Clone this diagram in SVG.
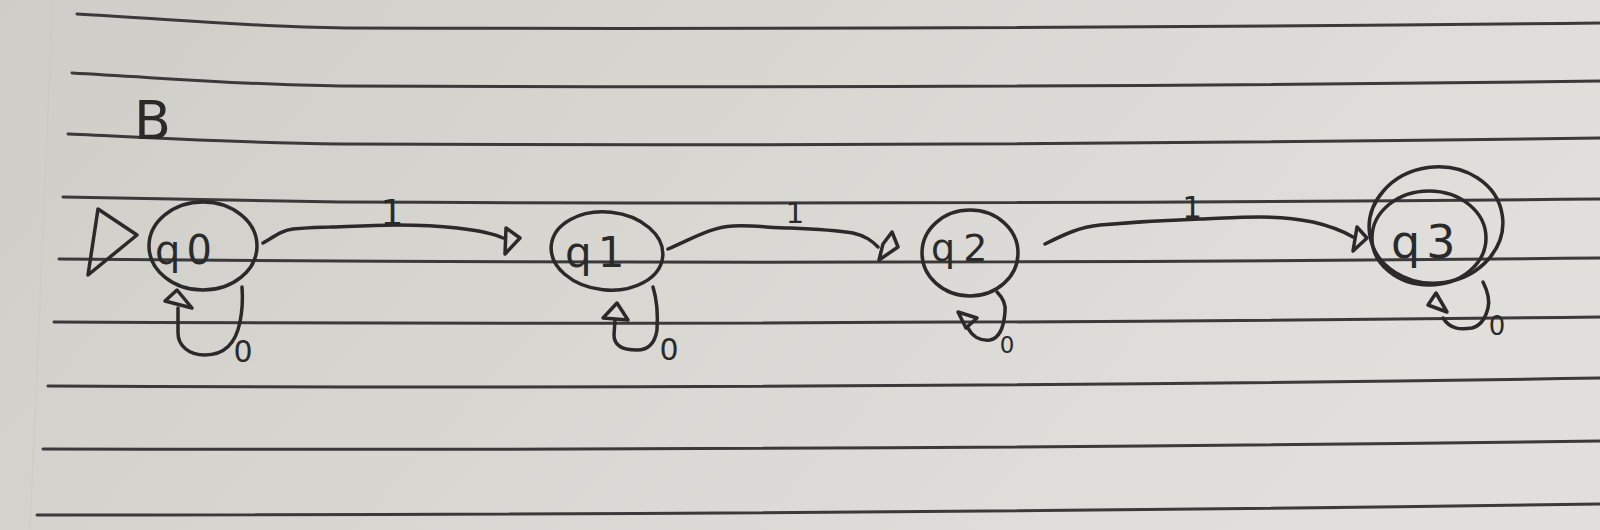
<svg xmlns="http://www.w3.org/2000/svg" width="1600" height="530" viewBox="0 0 1600 530">
<defs>
<linearGradient id="paper" x1="0" y1="0" x2="1" y2="0.3">
<stop offset="0" stop-color="#cfcdc8"/>
<stop offset="0.5" stop-color="#d8d7d2"/>
<stop offset="1" stop-color="#e0dfdb"/>
</linearGradient>
<style>
.rule{fill:none;stroke:#3a3a3a;stroke-width:3;stroke-linecap:round}
.pen{fill:none;stroke:#2a2a2a;stroke-width:3.5;stroke-linecap:round;stroke-linejoin:round}
.head{fill:none;stroke:#2a2a2a;stroke-width:3.5;stroke-linejoin:round}
.lbl{font-family:"DejaVu Sans","Liberation Sans",sans-serif;fill:#2a2a2a}
</style>
</defs>
<rect width="1600" height="530" fill="url(#paper)"/>
<g id="paper-lines">
<line x1="53" y1="0" x2="30" y2="530" stroke="#c6c4bf" stroke-width="1.2" opacity="0.4"/>
<path class="rule" d="M77,14 C170,19 250,27 345,28 Q960,30 1600,23"/>
<path class="rule" d="M72,73 C165,78 245,85 340,86 Q960,89 1600,81"/>
<path class="rule" d="M68,134 C160,138 240,143 340,144 Q960,147 1600,138"/>
<path class="rule" d="M63,197 C150,199 240,201 340,202 Q960,205 1600,199"/>
<path class="rule" d="M59,259 Q800,266 1600,258"/>
<path class="rule" d="M54,322 Q800,326 1600,317"/>
<path class="rule" d="M48,386 Q850,390 1600,378"/>
<path class="rule" d="M43,449 Q850,451 1600,441"/>
<path class="rule" d="M37,515 Q850,515 1600,504"/>
</g>
<text id="title" class="lbl" x="134" y="139" font-size="54">B</text>
<g id="q0">
<ellipse class="pen" cx="203" cy="246" rx="54" ry="44"/>
<text class="lbl" x="155" y="264" font-size="40">q<tspan dx="6">0</tspan></text>
</g>
<g id="q1">
<ellipse class="pen" cx="607" cy="251" rx="56" ry="39" transform="rotate(6 607 251)"/>
<text class="lbl" x="565" y="267" font-size="42">q<tspan dx="6">1</tspan></text>
</g>
<g id="q2">
<ellipse class="pen" cx="970" cy="253" rx="48" ry="43"/>
<text class="lbl" x="931" y="261" font-size="38">q<tspan dx="8">2</tspan></text>
</g>
<g id="q3">
<ellipse class="pen" cx="1436" cy="225" rx="67" ry="58" transform="rotate(-8 1436 225)"/>
<ellipse class="pen" cx="1429" cy="238" rx="57" ry="47"/>
<text class="lbl" x="1391" y="258" font-size="46">q<tspan dx="6">3</tspan></text>
</g>
<g id="connectors">
<polygon class="head" points="98,209 88,275 137,235"/>
<path class="pen" d="M263,243 C275,236 283,230 293,229 C305,228 318,227 330,227 C360,226 380,225 397,225 C420,225 440,226 457,228 C475,230 492,233 503,238"/>
<polygon class="head" points="506,228 520,238 505,254"/>
<path class="pen" d="M668,249 C690,240 710,227 733,226 C755,225 770,228 790,228 C815,229 835,230 853,233 C866,236 872,241 878,247"/>
<polygon class="head" points="892,232 898,247 879,260 883,244"/>
<path class="pen" d="M1045,244 C1065,234 1080,227 1100,225 C1135,222 1170,220 1200,219 C1225,218 1240,217 1260,217 C1280,217 1298,219 1313,222 C1330,226 1343,231 1353,237"/>
<polygon class="head" points="1357,227 1367,238 1353,251"/>
<path class="pen" d="M242,287 C243,300 242,312 240,322 C236,342 225,355 205,355 C188,355 178,345 178,333 L178,308"/>
<polygon class="head" points="177,290 165,301 192,308"/>
<path class="pen" d="M653,287 C657,300 658,315 657,330 C655,343 648,350 637,350 C622,350 614,345 614,335 L615,320"/>
<polygon class="head" points="617,303 603,318 628,320"/>
<path class="pen" d="M997,292 C1003,298 1006,305 1005,312 C1004,325 1000,338 990,340 C980,341 972,336 968,328"/>
<polygon class="head" points="958,312 977,318 966,328"/>
<path class="pen" d="M1483,282 C1488,292 1490,300 1488,308 C1485,320 1480,326 1472,328 C1460,330 1450,329 1443,318"/>
<polygon class="head" points="1436,293 1428,305 1447,312"/>
<text class="lbl" x="392" y="225" font-size="36" text-anchor="middle">1</text>
<text class="lbl" x="795" y="223" font-size="29" text-anchor="middle">1</text>
<text class="lbl" x="1192" y="218" font-size="31" text-anchor="middle">1</text>
<text class="lbl" x="243" y="362" font-size="30" text-anchor="middle">0</text>
<text class="lbl" x="669" y="360" font-size="30" text-anchor="middle">0</text>
<text class="lbl" x="1007" y="353" font-size="23" text-anchor="middle">0</text>
<text class="lbl" x="1497" y="335" font-size="26" text-anchor="middle">0</text>
</g>
</svg>
